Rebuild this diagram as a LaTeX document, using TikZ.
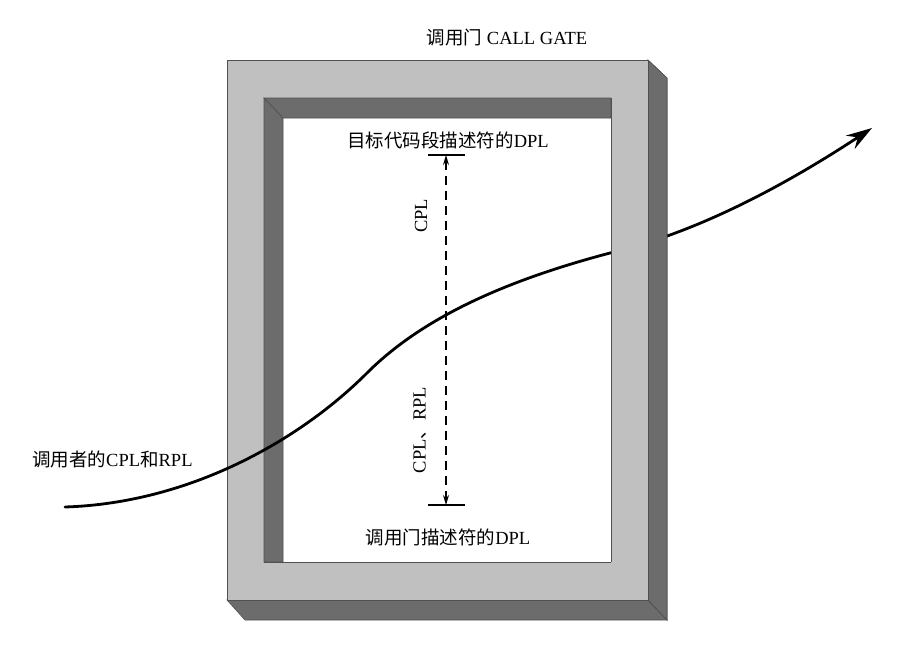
\documentclass[tikz,border=0pt]{standalone}
\usepackage{fontspec}
\setmainfont{Liberation Serif}
\newfontfamily\cjk{Noto Sans CJK SC}
\usepackage{tikz}
\usetikzlibrary{calc,arrows.meta,positioning}
\definecolor{gateLight}{RGB}{192,192,192}
\definecolor{gateDark}{RGB}{108,108,108}
\definecolor{gateEdge}{RGB}{80,80,80}

\tikzset{
  lbl/.style={inner sep=1pt, font=\fontsize{18.5}{22}\selectfont},
  face/.style={fill=gateLight, draw=gateEdge, line width=0.6pt},
  side/.style={fill=gateDark, draw=gateEdge, line width=0.6pt},
  edge/.style={draw=gateEdge, line width=0.6pt},
  bar/.style={line width=1.3pt},
  lvl/.style={dashed, dash pattern=on 9pt off 6pt, line width=1.3pt, {Stealth[length=10pt,width=6pt]}-{Stealth[length=10pt,width=6pt]}},
  path/.style={line width=2.8pt, line cap=round, -{Stealth[length=26pt,width=16pt,inset=9pt]}}
}

\begin{document}
\begin{tikzpicture}[x=1pt,y=-1pt]
\useasboundingbox (0,0) rectangle (910,657);
% gate frame
\draw[side] (227,600)--(245,620)--(667,620)--(648,600)--cycle;
\draw[side] (648,60)--(667,78)--(667,620)--(648,600)--cycle;
\draw[face] (227,60) rectangle (648,600);
\draw[fill=white, edge] (264,98) rectangle (611,562);
\draw[side] (264,98)--(611,98)--(611,118)--(283,118)--cycle;
\draw[side] (264,98)--(283,118)--(283,562)--(264,562)--cycle;

% caller path through the gate
\coordinate (start) at (65,507);
\coordinate (mid) at (367,373);
\coordinate (post) at (610,253);
\coordinate (tip) at (872,128);
\draw[path] (start) .. controls (190,503) and (300,440) .. (mid)
  .. controls (420,320) and (500,282) .. (post)
  .. controls (700,232) and (790,182) .. (tip);
% right post hides the path
\draw[side] (648,60)--(667,78)--(667,620)--(648,600)--cycle;
\fill[gateLight] (611.3,60.3) rectangle (647.7,599.7);
\draw[edge] (611,98)--(611,562);
\draw[edge] (227,60)--(648,60)--(648,600)--(227,600);

% labels
\node[lbl] (title) at (507,38) {{\cjk 调用门} CALL GATE};
\node[lbl] (target) at (448,140) {{\cjk 目标代码段描述符的}DPL};
\node[lbl] (gatedpl) at (448,537) {{\cjk 调用门描述符的}DPL};
\node[lbl, anchor=west] (caller) at (31,459) {{\cjk 调用者的}CPL{\cjk 和}RPL};

% privilege levels
\coordinate (top) at (446,155);
\coordinate (bot) at (446,505);
\draw[bar] ($(top)+(-18,0)$) -- ($(top)+(19,0)$);
\draw[bar] ($(bot)+(-18,0)$) -- ($(bot)+(19,0)$);
\draw[lvl] (top) -- (bot);
\node[lbl, rotate=90] (cpl) at (421,216) {CPL};
\node[lbl, rotate=90] (cplrpl) at (420,430) {CPL{\cjk 、}RPL};
\end{tikzpicture}
\end{document}
